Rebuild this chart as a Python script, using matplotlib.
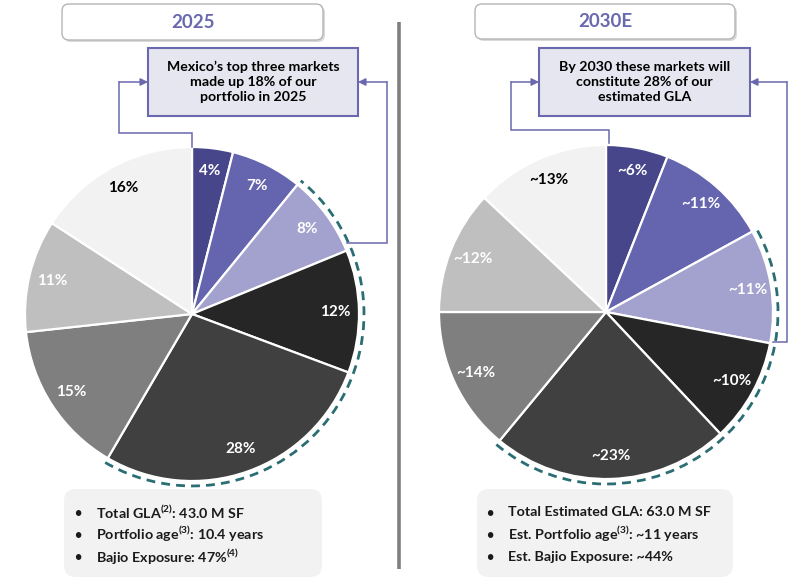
import matplotlib
matplotlib.use('Agg')
import matplotlib.pyplot as plt
import numpy as np
from matplotlib.patches import Arc, FancyBboxPatch, Rectangle

plt.rcParams['font.family'] = ['Lato', 'DejaVu Sans']
plt.rcParams['mathtext.fontset'] = 'custom'
plt.rcParams['mathtext.rm'] = 'Lato:bold'
plt.rcParams['mathtext.bf'] = 'Lato:bold'

W, H = 801, 582

# data
titles = ['2025', '2030E']
values_2025 = [4, 7, 8, 12, 28, 15, 11, 16]
labels_2025 = ['4%', '7%', '8%', '12%', '28%', '15%', '11%', '16%']
values_2030 = [6, 11, 11, 10, 23, 14, 12, 13]
labels_2030 = ['~6%', '~11%', '~11%', '~10%', '~23%', '~14%', '~12%', '~13%']
callouts = [
    'Mexico\u2019s top three markets\nmade up 18% of our\nportfolio in 2025',
    'By 2030 these markets will\nconstitute 28% of our\nestimated GLA',
]
info_2025 = [
    r'Total GLA$^{(2)}$: 43.0 M SF',
    r'Portfolio age$^{(3)}$: 10.4 years',
    r'Bajio Exposure: 47%$^{(4)}$',
]
info_2030 = [
    'Total Estimated GLA: 63.0 M SF',
    r'Est. Portfolio age$^{(3)}$: ~11 years',
    'Est. Bajio Exposure: ~44%',
]
highlight = (2, 5)  # slices under the dashed arc

SLICE_COLORS = ['#47468A', '#6564AE', '#A3A1CD', '#262626',
                '#404040', '#7F7F7F', '#BFBFBF', '#F2F2F2']
LABEL_COLORS = ['white'] * 7 + ['black']
PURPLE = '#6A68AE'
TEAL = '#2A6E74'


def Y(y):
    return H - y


fig = plt.figure(figsize=(W / 100, H / 100), dpi=100)
ax = fig.add_axes([0, 0, 1, 1])

panels = [
    dict(values=values_2025, labels=labels_2025, info=info_2025, center=(192, 314),
         title_box=(62, 4, 323, 40), call_box=(148, 48, 358, 116),
         left_path=[(192, 147), (192, 133), (119, 133), (119, 82)],
         right_path=[(347, 243), (387, 243), (387, 82)],
         info_box=(64, 489, 322, 577), bullet_x=78, text_x=96),
    dict(values=values_2030, labels=labels_2030, info=info_2030, center=(606, 312),
         title_box=(475, 4, 735, 39), call_box=(539, 48, 750, 116),
         left_path=[(609, 143), (609, 130), (511, 130), (511, 82)],
         right_path=[(773, 342), (787, 342), (787, 82)],
         info_box=(477, 489, 733, 577), bullet_x=490, text_x=508),
]
R = 167

for i, p in enumerate(panels):
    cx, cy = p['center']
    wedges, _ = ax.pie(p['values'], colors=SLICE_COLORS, startangle=90,
                       counterclock=False, radius=R, center=(cx, Y(cy)),
                       wedgeprops=dict(edgecolor='white', linewidth=1.6))
    for w, lab, col in zip(wedges, p['labels'], LABEL_COLORS):
        mid = np.deg2rad((w.theta1 + w.theta2) / 2)
        ax.text(cx + 0.86 * R * np.cos(mid), Y(cy) + 0.86 * R * np.sin(mid), lab,
                ha='center', va='center', color=col, fontsize=11,
                fontweight='bold')
    t_end = wedges[highlight[0]].theta2
    t_start = wedges[highlight[1] - 1].theta1
    ax.add_patch(Arc((cx, Y(cy)), 2 * (R + 5), 2 * (R + 5), theta1=t_start,
                     theta2=t_end, color=TEAL, lw=2.0, linestyle=(0, (3.2, 2.2))))

    # title box with shadow
    x0, y0, x1, y1 = p['title_box']
    ax.add_patch(FancyBboxPatch((x0 + 2, Y(y1) - 2), x1 - x0, y1 - y0,
                                boxstyle='round,pad=0,rounding_size=7',
                                fc='#C9C9C9', ec='none', alpha=0.7))
    ax.add_patch(FancyBboxPatch((x0, Y(y1)), x1 - x0, y1 - y0,
                                boxstyle='round,pad=0,rounding_size=7',
                                fc='white', ec='#B5B5B5', lw=1.0))
    ax.text((x0 + x1) / 2, Y((y0 + y1) / 2), titles[i], ha='center', va='center',
            color=PURPLE, fontsize=13.5, fontweight='bold')

    # callout box
    x0, y0, x1, y1 = p['call_box']
    ax.add_patch(Rectangle((x0, Y(y1)), x1 - x0, y1 - y0, fc='#E6E6F0',
                           ec=PURPLE, lw=1.5))
    ax.text((x0 + x1) / 2, Y((y0 + y1) / 2), callouts[i], ha='center', va='center',
            color='black', fontsize=10.2, fontweight='bold', linespacing=1.3)

    # connectors
    lp = np.array(p['left_path'], dtype=float)
    ax.plot(lp[:, 0], H - lp[:, 1], color=PURPLE, lw=1.1, solid_joinstyle='miter')
    ax.annotate('', xy=(x0, Y(lp[-1, 1])), xytext=(lp[-1, 0], Y(lp[-1, 1])),
                arrowprops=dict(arrowstyle='-|>', color=PURPLE, lw=1.1,
                                mutation_scale=11, shrinkA=0, shrinkB=0))
    rp = np.array(p['right_path'], dtype=float)
    ax.plot(rp[:, 0], H - rp[:, 1], color=PURPLE, lw=1.1, solid_joinstyle='miter')
    ax.annotate('', xy=(x1, Y(rp[-1, 1])), xytext=(rp[-1, 0], Y(rp[-1, 1])),
                arrowprops=dict(arrowstyle='-|>', color=PURPLE, lw=1.1,
                                mutation_scale=11, shrinkA=0, shrinkB=0))

    # info box
    x0, y0, x1, y1 = p['info_box']
    ax.add_patch(FancyBboxPatch((x0, Y(y1)), x1 - x0, y1 - y0,
                                boxstyle='round,pad=0,rounding_size=12',
                                fc='#F2F2F2', ec='none'))
    for k, line in enumerate(p['info']):
        yy = Y(512.5 + k * 22.3)
        ax.text(p['bullet_x'], yy, '\u2022', ha='center', va='center',
                fontsize=9, color='#1A1A1A', fontweight='bold')
        ax.text(p['text_x'], yy, line, ha='left', va='center',
                fontsize=10.3, color='#1A1A1A', fontweight='bold')

# divider
ax.plot([399, 399], [Y(22), Y(569)], color='#7F7F7F', lw=2.6, solid_capstyle='butt')

ax.set_xlim(0, W)
ax.set_ylim(0, H)
ax.set_aspect('equal')
ax.axis('off')

fig.savefig('out.png', dpi=100)
